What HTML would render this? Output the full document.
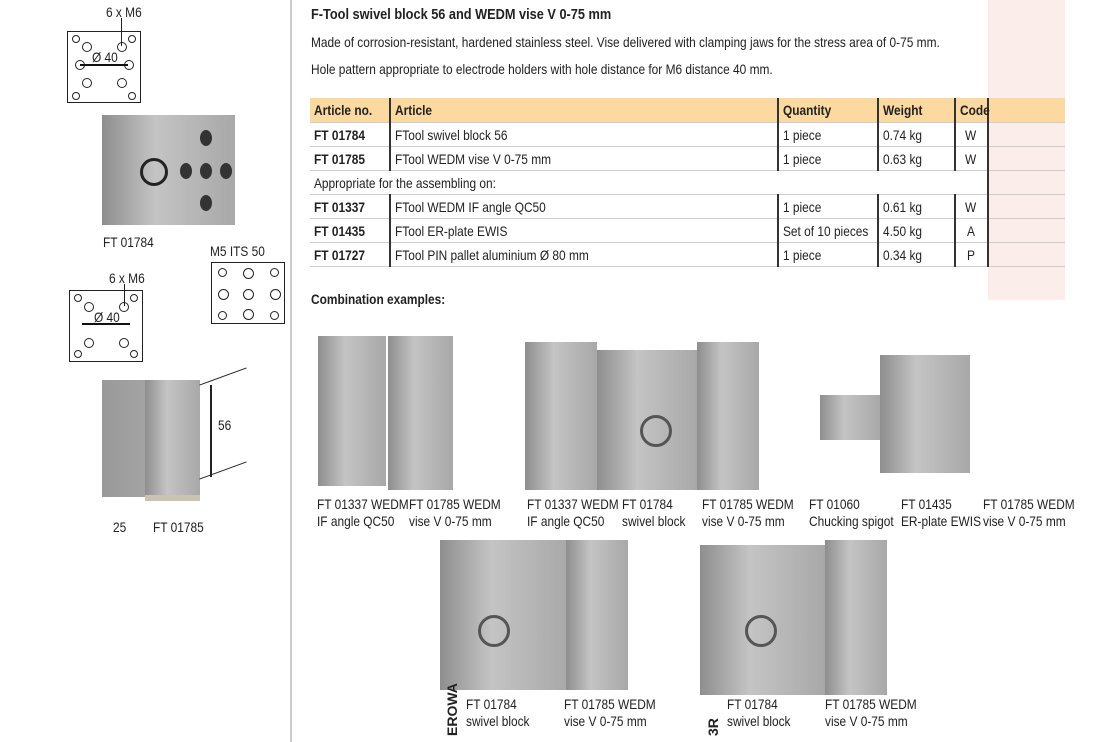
<!DOCTYPE html>
<html><head><meta charset="utf-8">
<style>
body{margin:0;width:1100px;height:742px;background:#fff;position:relative;overflow:hidden;font-family:"Liberation Sans",sans-serif;color:#222}
.a{position:absolute}
.t{position:absolute;font-size:14px;line-height:17px;white-space:nowrap;transform:scaleX(0.85);transform-origin:left top}
.s{display:inline-block;transform:scaleX(0.85);transform-origin:left center;white-space:nowrap}
table{border-collapse:collapse;position:absolute;left:310px;top:98px;font-size:14px;table-layout:fixed;width:755px}
td{height:23px;padding:0 4px;border-bottom:1px solid #ccc;border-left:2px solid #333;white-space:nowrap;overflow:visible}
td:first-child{border-left:none;font-weight:bold}
tr.h td{background:#fbd9a0;font-weight:bold;height:24px}
.p{background:#fbeeea}
.g{background:linear-gradient(90deg,#8e8e8e,#c4c4c4 40%,#a8a8a8);position:absolute}
.hole{position:absolute;border-radius:50%;background:#333}
.c{position:absolute;border:1px solid #222;border-radius:50%}
</style></head><body>
<div class="a" style="left:290px;top:0;width:2px;height:742px;background:#ccc"></div>
<div class="a p" style="left:988px;top:0;width:77px;height:300px"></div>
<div class="t" style="left:311px;top:6px;font-weight:bold;font-size:15px">F-Tool swivel block 56 and WEDM vise V 0-75 mm</div>
<div class="t" style="left:311px;top:34px">Made of corrosion-resistant, hardened stainless steel. Vise delivered with clamping jaws for the stress area of 0-75 mm.</div>
<div class="t" style="left:311px;top:61px">Hole pattern appropriate to electrode holders with hole distance for M6 distance 40 mm.</div>
<table>
<colgroup><col style="width:80px"><col style="width:388px"><col style="width:100px"><col style="width:77px"><col style="width:33px"><col style="width:77px"></colgroup>
<tr class="h"><td><span class="s">Article no.</span></td><td><span class="s">Article</span></td><td><span class="s">Quantity</span></td><td><span class="s">Weight</span></td><td><span class="s">Code</span></td><td class="p"></td></tr>
<tr><td><span class="s">FT 01784</span></td><td><span class="s">FTool swivel block 56</span></td><td><span class="s">1 piece</span></td><td><span class="s">0.74 kg</span></td><td style="text-align:center"><span class="s">W</span></td><td class="p"></td></tr>
<tr><td><span class="s">FT 01785</span></td><td><span class="s">FTool WEDM vise V 0-75 mm</span></td><td><span class="s">1 piece</span></td><td><span class="s">0.63 kg</span></td><td style="text-align:center"><span class="s">W</span></td><td class="p"></td></tr>
<tr><td colspan="5" style="font-weight:normal"><span class="s">Appropriate for the assembling on:</span></td><td class="p" style="border-left:2px solid #333"></td></tr>
<tr><td><span class="s">FT 01337</span></td><td><span class="s">FTool WEDM IF angle QC50</span></td><td><span class="s">1 piece</span></td><td><span class="s">0.61 kg</span></td><td style="text-align:center"><span class="s">W</span></td><td class="p"></td></tr>
<tr><td><span class="s">FT 01435</span></td><td><span class="s">FTool ER-plate EWIS</span></td><td><span class="s">Set of 10 pieces</span></td><td><span class="s">4.50 kg</span></td><td style="text-align:center"><span class="s">A</span></td><td class="p"></td></tr>
<tr><td><span class="s">FT 01727</span></td><td><span class="s">FTool PIN pallet aluminium Ø 80 mm</span></td><td><span class="s">1 piece</span></td><td><span class="s">0.34 kg</span></td><td style="text-align:center"><span class="s">P</span></td><td class="p"></td></tr>
</table>
<div class="t" style="left:311px;top:291px;font-weight:bold">Combination examples:</div>

<!-- left diagrams -->
<div class="t" style="left:106px;top:4px">6 x M6</div>
<div class="a" style="left:121px;top:18px;width:1px;height:28px;background:#222"></div>
<div class="a" style="left:67px;top:31px;width:72px;height:70px;border:1.5px solid #222"></div>
<div class="c" style="left:72px;top:35px;width:6px;height:6px"></div><div class="c" style="left:128px;top:35px;width:6px;height:6px"></div>
<div class="c" style="left:72px;top:92px;width:6px;height:6px"></div><div class="c" style="left:128px;top:92px;width:6px;height:6px"></div>
<div class="c" style="left:82px;top:42px;width:8px;height:8px"></div><div class="c" style="left:117px;top:42px;width:8px;height:8px"></div>
<div class="c" style="left:75px;top:60px;width:8px;height:8px"></div><div class="c" style="left:124px;top:60px;width:8px;height:8px"></div>
<div class="c" style="left:82px;top:78px;width:8px;height:8px"></div><div class="c" style="left:117px;top:78px;width:8px;height:8px"></div>
<div class="t" style="left:92px;top:49px">Ø 40</div>
<div class="a" style="left:80px;top:64px;width:48px;height:2px;background:#111"></div>
<div class="g" style="left:102px;top:115px;width:133px;height:110px"></div>
<div class="hole" style="left:200px;top:130px;width:12px;height:16px"></div>
<div class="hole" style="left:180px;top:163px;width:12px;height:16px"></div>
<div class="hole" style="left:200px;top:163px;width:12px;height:16px"></div>
<div class="hole" style="left:220px;top:163px;width:12px;height:16px"></div>
<div class="hole" style="left:200px;top:195px;width:12px;height:16px"></div>
<div class="c" style="left:140px;top:158px;width:22px;height:22px;border-width:3px"></div>
<div class="t" style="left:103px;top:234px">FT 01784</div>
<div class="t" style="left:210px;top:243px">M5 ITS 50</div>
<div class="a" style="left:211px;top:262px;width:72px;height:60px;border:1.5px solid #222"></div>
<div class="c" style="left:218px;top:268px;width:7px;height:7px"></div><div class="c" style="left:243px;top:268px;width:9px;height:9px"></div><div class="c" style="left:270px;top:268px;width:7px;height:7px"></div>
<div class="c" style="left:218px;top:289px;width:9px;height:9px"></div><div class="c" style="left:243px;top:289px;width:9px;height:9px"></div><div class="c" style="left:270px;top:289px;width:9px;height:9px"></div>
<div class="c" style="left:218px;top:311px;width:7px;height:7px"></div><div class="c" style="left:243px;top:309px;width:9px;height:9px"></div><div class="c" style="left:270px;top:311px;width:7px;height:7px"></div>
<div class="t" style="left:109px;top:270px">6 x M6</div>
<div class="a" style="left:124px;top:284px;width:1px;height:22px;background:#222"></div>
<div class="a" style="left:69px;top:290px;width:72px;height:70px;border:1.5px solid #222"></div>
<div class="c" style="left:74px;top:294px;width:6px;height:6px"></div><div class="c" style="left:130px;top:294px;width:6px;height:6px"></div>
<div class="c" style="left:74px;top:350px;width:6px;height:6px"></div><div class="c" style="left:130px;top:350px;width:6px;height:6px"></div>
<div class="c" style="left:84px;top:302px;width:8px;height:8px"></div><div class="c" style="left:119px;top:302px;width:8px;height:8px"></div>
<div class="c" style="left:84px;top:338px;width:8px;height:8px"></div><div class="c" style="left:119px;top:338px;width:8px;height:8px"></div>
<div class="t" style="left:94px;top:309px">Ø 40</div>
<div class="a" style="left:82px;top:323px;width:48px;height:2px;background:#111"></div>
<div class="a" style="left:102px;top:380px;width:95px;height:117px;background:linear-gradient(90deg,#999,#b0b0b0)"></div>
<div class="g" style="left:145px;top:380px;width:55px;height:115px"></div>
<div class="a" style="left:145px;top:495px;width:55px;height:6px;background:#c9c3b0"></div>
<div class="t" style="left:218px;top:417px">56</div>
<div class="t" style="left:113px;top:519px">25</div>
<div class="t" style="left:153px;top:519px">FT 01785</div>
<div class="a" style="left:198px;top:376px;width:50px;height:1px;background:#222;transform:rotate(-20deg)"></div>
<div class="a" style="left:198px;top:470px;width:50px;height:1px;background:#222;transform:rotate(-20deg)"></div>
<div class="a" style="left:210px;top:385px;width:2px;height:92px;background:#222"></div>

<!-- combination examples -->
<div class="g" style="left:318px;top:336px;width:68px;height:150px"></div>
<div class="g" style="left:388px;top:336px;width:65px;height:154px"></div>
<div class="t" style="left:317px;top:496px">FT 01337 WEDM<br>IF angle QC50</div>
<div class="t" style="left:409px;top:496px">FT 01785 WEDM<br>vise V 0-75 mm</div>

<div class="g" style="left:525px;top:342px;width:72px;height:148px"></div>
<div class="g" style="left:597px;top:350px;width:100px;height:140px"></div>
<div class="g" style="left:697px;top:342px;width:62px;height:148px"></div>
<div class="c" style="left:640px;top:415px;width:26px;height:26px;border-width:3px;border-color:#555"></div>
<div class="t" style="left:527px;top:496px">FT 01337 WEDM<br>IF angle QC50</div>
<div class="t" style="left:622px;top:496px">FT 01784<br>swivel block</div>
<div class="t" style="left:702px;top:496px">FT 01785 WEDM<br>vise V 0-75 mm</div>

<div class="g" style="left:820px;top:395px;width:60px;height:45px"></div>
<div class="g" style="left:880px;top:355px;width:90px;height:118px"></div>
<div class="t" style="left:809px;top:496px">FT 01060<br>Chucking spigot</div>
<div class="t" style="left:901px;top:496px">FT 01435<br>ER-plate EWIS</div>
<div class="t" style="left:983px;top:496px">FT 01785 WEDM<br>vise V 0-75 mm</div>

<div class="g" style="left:440px;top:540px;width:128px;height:150px"></div>
<div class="g" style="left:566px;top:540px;width:62px;height:150px"></div>
<div class="c" style="left:478px;top:615px;width:26px;height:26px;border-width:3px;border-color:#555"></div>
<div class="a" style="left:444px;top:736px;font-size:14px;font-weight:bold;transform:rotate(-90deg);transform-origin:left top;white-space:nowrap">EROWA</div>
<div class="t" style="left:466px;top:696px">FT 01784<br>swivel block</div>
<div class="t" style="left:564px;top:696px">FT 01785 WEDM<br>vise V 0-75 mm</div>

<div class="g" style="left:700px;top:545px;width:125px;height:150px"></div>
<div class="g" style="left:825px;top:540px;width:62px;height:155px"></div>
<div class="c" style="left:745px;top:615px;width:26px;height:26px;border-width:3px;border-color:#555"></div>
<div class="a" style="left:705px;top:736px;font-size:14px;font-weight:bold;transform:rotate(-90deg);transform-origin:left top">3R</div>
<div class="t" style="left:727px;top:696px">FT 01784<br>swivel block</div>
<div class="t" style="left:825px;top:696px">FT 01785 WEDM<br>vise V 0-75 mm</div>
</body></html>
